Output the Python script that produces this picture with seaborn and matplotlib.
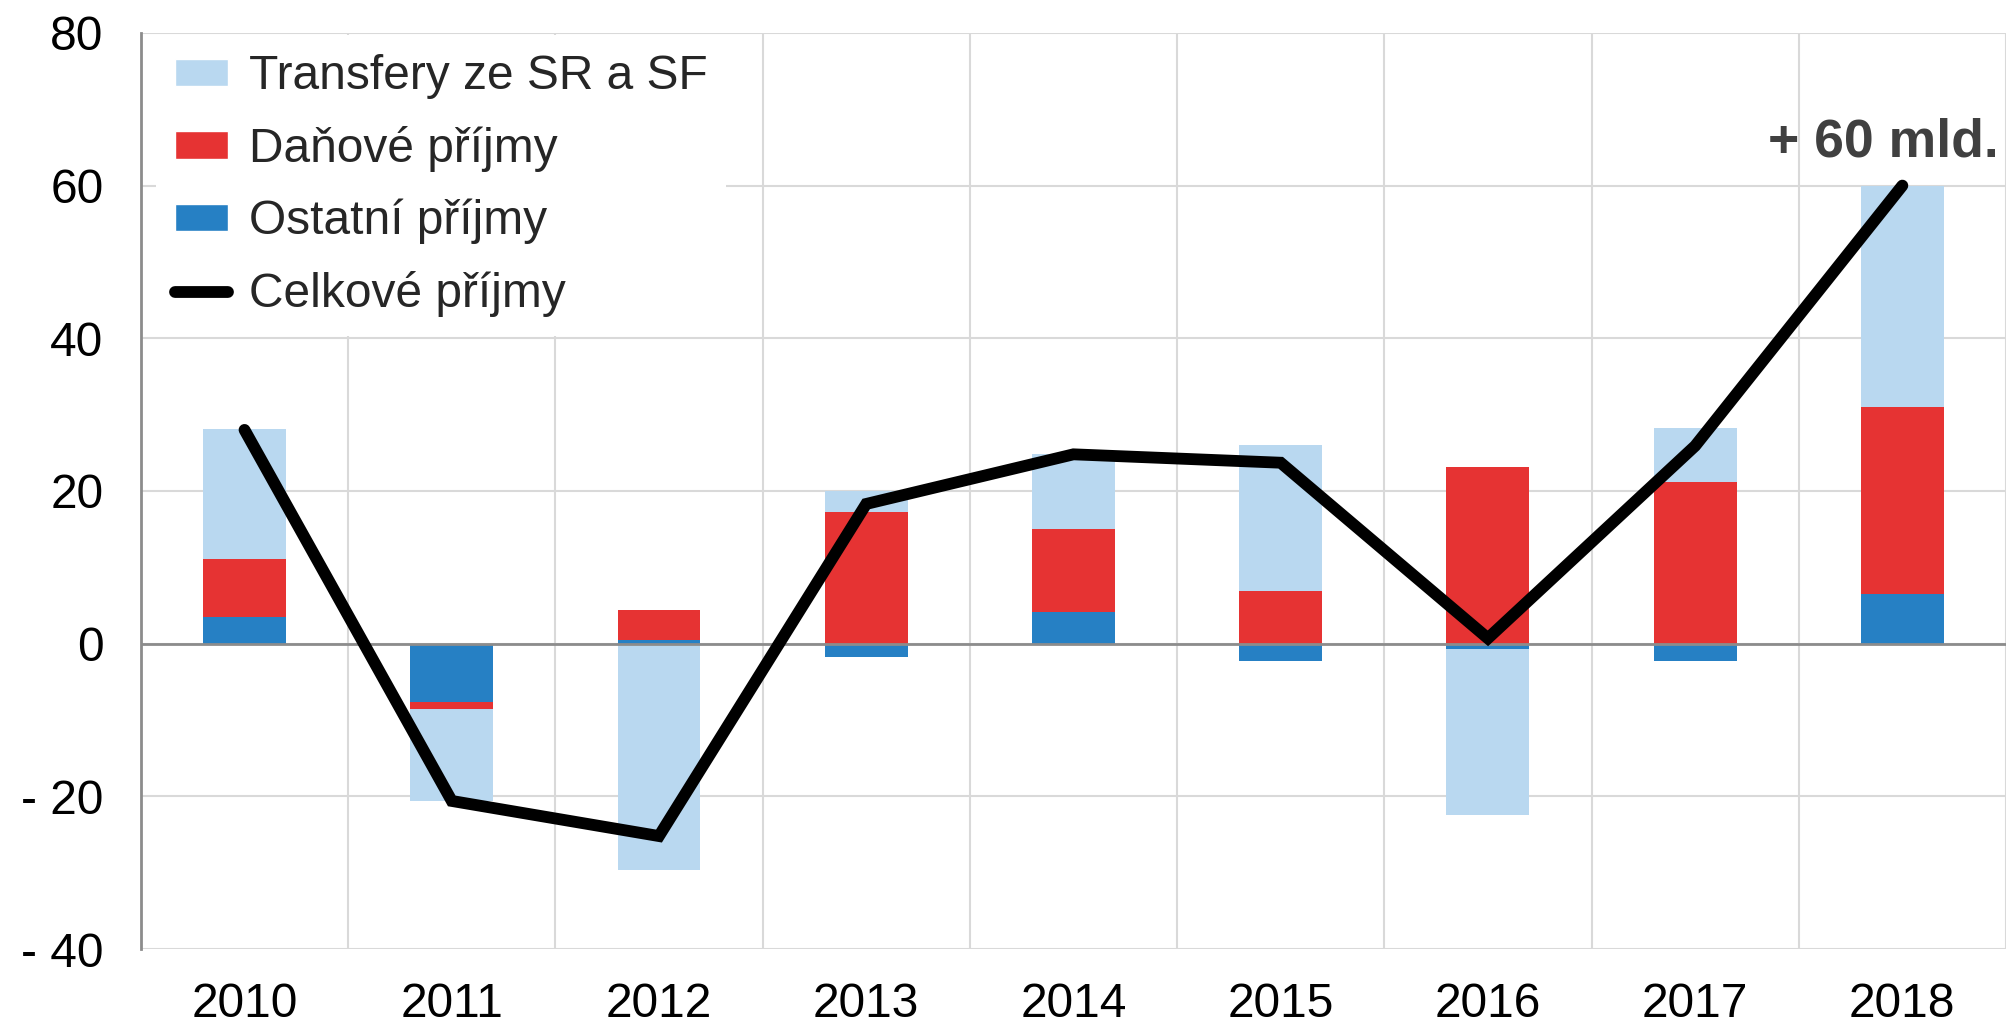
import numpy as np
import matplotlib
matplotlib.use("Agg")
import matplotlib.pyplot as plt
import seaborn as sns
from matplotlib.patches import Patch
from matplotlib.lines import Line2D

# --- data (mld. Kč, yearly change) ---
years = ["2010", "2011", "2012", "2013", "2014", "2015", "2016", "2017", "2018"]
ostatni = [3.5, -7.7, 0.5, -1.7, 4.2, -2.3, -0.7, -2.3, 6.5]
danove = [7.6, -0.8, 3.9, 17.3, 10.8, 6.9, 23.2, 21.2, 24.5]
transfery = [17.0, -12.1, -29.6, 2.7, 9.8, 19.1, -21.8, 7.0, 29.0]
celkem = [28.0, -20.6, -25.2, 18.3, 24.8, 23.7, 0.7, 25.9, 60.0]
y_ticks = [-40, -20, 0, 20, 40, 60, 80]
y_labels = ["- 40", "- 20", "0", "20", "40", "60", "80"]
annot_text = "+ 60 mld."

c_transfery = "#B9D8F0"
c_danove = "#E63333"
c_ostatni = "#2680C4"

sns.set_style("white")
plt.rcParams["font.family"] = ["Liberation Sans", "DejaVu Sans"]

fig = plt.figure(figsize=(20.1, 10.28), dpi=100)
ax = fig.add_axes([0.0701, 0.0768, 0.9279, 0.8912])

x = np.arange(len(years))
pos_base = np.zeros(len(years))
neg_base = np.zeros(len(years))
for vals, col in [(ostatni, c_ostatni), (danove, c_danove), (transfery, c_transfery)]:
    v = np.array(vals)
    bottom = np.where(v >= 0, pos_base, neg_base)
    ax.bar(x, v, bottom=bottom, width=0.4, color=col, edgecolor="none", zorder=2)
    pos_base = pos_base + np.where(v >= 0, v, 0)
    neg_base = neg_base + np.where(v < 0, v, 0)

ax.axhline(0, color="#8C8C8C", lw=2, zorder=2.5)

sns.lineplot(x=x, y=celkem, color="black", lw=8.5, ax=ax, zorder=4,
             solid_capstyle="round", solid_joinstyle="miter")

ax.text(7.91, 65.6, annot_text, ha="center", va="center", fontsize=38.5,
        fontweight="bold", color="#404040")

# --- axes styling ---
ax.set_xlim(-0.5, 8.5)
ax.set_ylim(-40, 80)
ax.set_yticks(y_ticks)
ax.set_yticklabels(y_labels)
ax.set_xticks(x)
ax.set_xticklabels(years)
ax.set_xticks(np.arange(-0.5, 9, 1), minor=True)
ax.tick_params(axis="both", which="both", length=0, labelsize=34.5, colors="black")
ax.tick_params(axis="y", pad=27)
ax.tick_params(axis="x", pad=24)
ax.grid(which="major", axis="y", color="#D9D9D9", lw=1.5)
ax.grid(which="minor", axis="x", color="#D9D9D9", lw=1.5)
ax.grid(which="major", axis="x", visible=False)
ax.set_axisbelow(True)
for s in ["top", "right", "bottom"]:
    ax.spines[s].set_visible(False)
ax.spines["left"].set_color("#8C8C8C")
ax.spines["left"].set_linewidth(2)
ax.set_xlabel("")
ax.set_ylabel("")

handles = [
    Patch(facecolor=c_transfery, label="Transfery ze SR a SF"),
    Patch(facecolor=c_danove, label="Daňové příjmy"),
    Patch(facecolor=c_ostatni, label="Ostatní příjmy"),
    Line2D([0], [0], color="black", lw=8.5, solid_capstyle="round", label="Celkové příjmy"),
]
leg = ax.legend(handles=handles, loc="upper left", bbox_to_anchor=(0.004, 1.0055),
                fontsize=34.5, frameon=True,
                facecolor="white", edgecolor="none", framealpha=1,
                handlelength=1.12, handleheight=0.5, handletextpad=0.42,
                labelspacing=0.56, borderaxespad=0.15, borderpad=0.4)
leg.set_zorder(5)

fig.savefig("out.png", dpi=100)
